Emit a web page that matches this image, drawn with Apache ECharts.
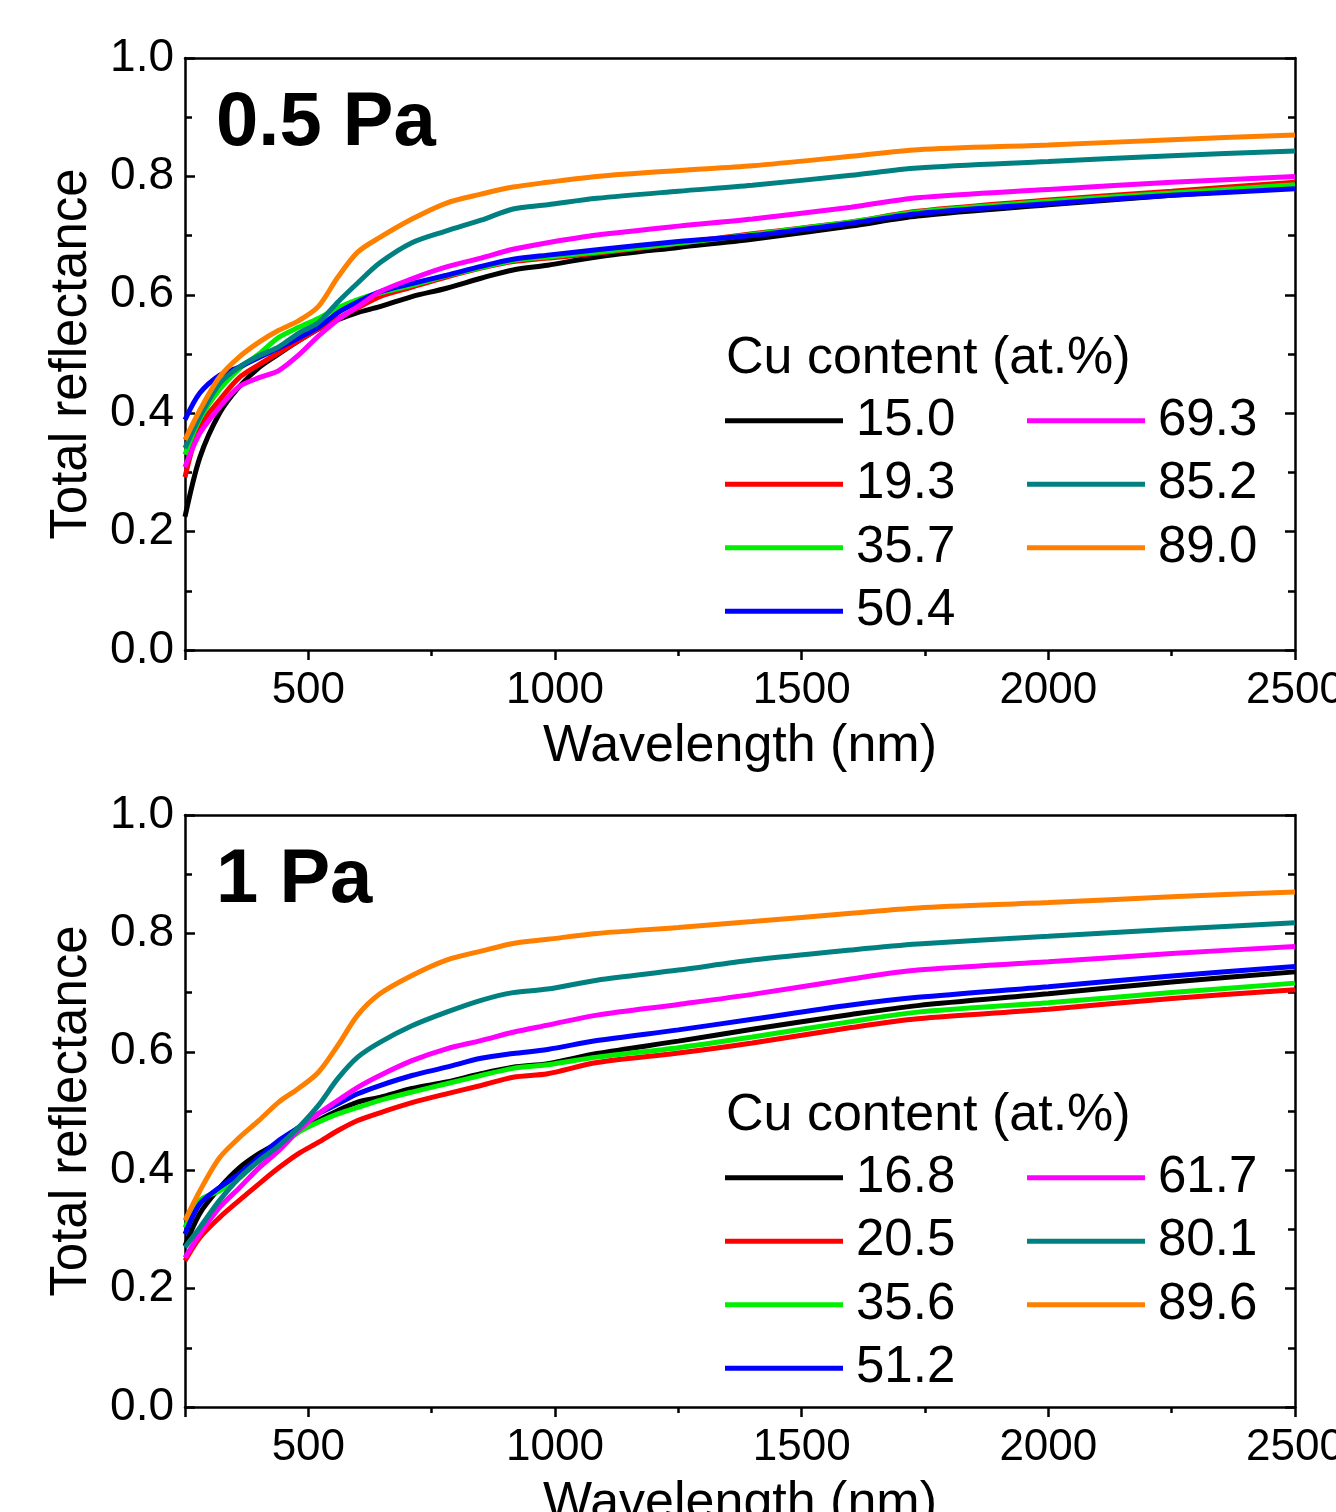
<!DOCTYPE html>
<html>
<head>
<meta charset="utf-8">
<script src="https://cdn.jsdelivr.net/npm/echarts@6/dist/echarts.min.js"></script>
<style>
  html, body { margin: 0; padding: 0; background: #fff; }
  #chart { width: 1336px; height: 1512px; }
</style>
</head>
<body>
<div id="chart"></div>
<script>
const FONT = "'Liberation Sans', Arial, sans-serif";

// wavelength samples (nm), shared by both panels
const wavelength = [250, 280, 320, 360, 400, 440, 480, 520, 560, 600, 645, 710, 780, 850, 915, 985, 1085, 1250, 1400, 1600, 1735, 2000, 2250, 2500];

// 0.5 Pa panel
const pa05Names = ["15.0", "19.3", "35.7", "50.4", "69.3", "85.2", "89.0"];
const pa05Cu15_0 = [0.225, 0.325, 0.40, 0.445, 0.477, 0.50, 0.522, 0.542, 0.558, 0.57, 0.58, 0.597, 0.611, 0.628, 0.642, 0.65, 0.664, 0.68, 0.694, 0.716, 0.733, 0.752, 0.768, 0.782];
const pa05Cu19_3 = [0.292, 0.377, 0.422, 0.46, 0.482, 0.502, 0.522, 0.542, 0.56, 0.578, 0.597, 0.613, 0.63, 0.645, 0.656, 0.662, 0.67, 0.687, 0.703, 0.723, 0.741, 0.76, 0.775, 0.79];
const pa05Cu35_7 = [0.33, 0.39, 0.44, 0.475, 0.50, 0.528, 0.545, 0.56, 0.578, 0.592, 0.603, 0.616, 0.632, 0.646, 0.658, 0.664, 0.672, 0.687, 0.702, 0.723, 0.74, 0.758, 0.772, 0.786];
const pa05Cu50_4 = [0.389, 0.434, 0.464, 0.478, 0.494, 0.51, 0.527, 0.545, 0.57, 0.588, 0.605, 0.619, 0.633, 0.648, 0.66, 0.667, 0.676, 0.69, 0.70, 0.721, 0.737, 0.754, 0.768, 0.779];
const pa05Cu69_3 = [0.309, 0.366, 0.41, 0.445, 0.46, 0.472, 0.498, 0.53, 0.558, 0.58, 0.605, 0.627, 0.647, 0.662, 0.677, 0.688, 0.701, 0.716, 0.728, 0.748, 0.764, 0.778, 0.79, 0.80];
const pa05Cu85_2 = [0.341, 0.394, 0.45, 0.478, 0.497, 0.512, 0.535, 0.553, 0.588, 0.62, 0.654, 0.688, 0.708, 0.726, 0.745, 0.752, 0.763, 0.775, 0.785, 0.802, 0.814, 0.825, 0.835, 0.843];
const pa05Cu89_0 = [0.355, 0.405, 0.461, 0.495, 0.52, 0.54, 0.556, 0.58, 0.63, 0.672, 0.697, 0.728, 0.755, 0.77, 0.782, 0.79, 0.80, 0.81, 0.818, 0.834, 0.845, 0.853, 0.862, 0.87];

// 1 Pa panel
const pa1Names = ["16.8", "20.5", "35.6", "51.2", "61.7", "80.1", "89.6"];
const pa1Cu16_8 = [0.272, 0.327, 0.37, 0.404, 0.428, 0.447, 0.467, 0.484, 0.501, 0.515, 0.523, 0.538, 0.549, 0.563, 0.574, 0.58, 0.597, 0.618, 0.638, 0.663, 0.678, 0.698, 0.718, 0.735];
const pa1Cu20_5 = [0.247, 0.286, 0.32, 0.349, 0.377, 0.404, 0.428, 0.447, 0.467, 0.484, 0.497, 0.514, 0.529, 0.543, 0.557, 0.563, 0.582, 0.598, 0.615, 0.641, 0.656, 0.672, 0.69, 0.705];
const pa1Cu35_6 = [0.303, 0.349, 0.365, 0.387, 0.416, 0.439, 0.464, 0.481, 0.495, 0.506, 0.518, 0.532, 0.546, 0.56, 0.572, 0.578, 0.591, 0.607, 0.625, 0.651, 0.667, 0.683, 0.70, 0.716];
const pa1Cu51_2 = [0.292, 0.343, 0.371, 0.394, 0.422, 0.45, 0.472, 0.495, 0.512, 0.529, 0.543, 0.56, 0.574, 0.589, 0.597, 0.604, 0.619, 0.637, 0.655, 0.679, 0.692, 0.71, 0.728, 0.744];
const pa1Cu61_7 = [0.252, 0.292, 0.337, 0.37, 0.404, 0.433, 0.467, 0.495, 0.518, 0.54, 0.56, 0.585, 0.605, 0.619, 0.633, 0.645, 0.662, 0.68, 0.697, 0.723, 0.738, 0.752, 0.766, 0.778];
const pa1Cu80_1 = [0.27, 0.303, 0.349, 0.387, 0.416, 0.441, 0.472, 0.509, 0.555, 0.591, 0.616, 0.644, 0.667, 0.687, 0.70, 0.706, 0.721, 0.738, 0.755, 0.772, 0.782, 0.795, 0.807, 0.818];
const pa1Cu89_6 = [0.315, 0.365, 0.421, 0.455, 0.484, 0.515, 0.538, 0.565, 0.611, 0.662, 0.698, 0.729, 0.755, 0.77, 0.783, 0.79, 0.80, 0.81, 0.82, 0.834, 0.843, 0.852, 0.862, 0.87];

const majorTicks = [250, 500, 1000, 1500, 2000, 2500];
const minorTicks = [750, 1250, 1750, 2250];
const xLabels = [500, 1000, 1500, 2000, 2500];
const colors = ["#000000", "#ff0000", "#00ee00", "#0000ff", "#ff00ff", "#008080", "#ff8000"];

const panels = [
  { title: "0.5 Pa", names: pa05Names, values: [pa05Cu15_0, pa05Cu19_3, pa05Cu35_7, pa05Cu50_4, pa05Cu69_3, pa05Cu85_2, pa05Cu89_0], top: 58 },
  { title: "1 Pa", names: pa1Names, values: [pa1Cu16_8, pa1Cu20_5, pa1Cu35_6, pa1Cu51_2, pa1Cu61_7, pa1Cu80_1, pa1Cu89_6], top: 815 }
];

const chart = echarts.init(document.getElementById("chart"));

const axisLine = { show: true, onZero: false, lineStyle: { color: "#000", width: 2.5 } };
const grid = [], xAxis = [], yAxis = [], series = [], legend = [], graphic = [];

panels.forEach((p, i) => {
  grid.push({ left: 185, top: p.top, width: 1110, height: 592, containLabel: false, outerBoundsMode: "none" });

  // bottom axis with major ticks and labels
  xAxis.push({
    gridIndex: i, type: "value", min: 250, max: 2500, interval: 250, position: "bottom",
    axisLine,
    axisTick: { show: true, inside: false, length: 10, customValues: majorTicks, lineStyle: { color: "#000", width: 2.5 } },
    axisLabel: { customValues: xLabels, fontSize: 44, color: "#000", fontFamily: FONT, margin: 19, formatter: v => String(v), hideOverlap: false },
    splitLine: { show: false },
    name: "Wavelength (nm)", nameLocation: "middle", nameGap: 71,
    nameTextStyle: { fontSize: 52, color: "#000", fontFamily: FONT }
  });
  // minor ticks on bottom
  xAxis.push({
    gridIndex: i, type: "value", min: 250, max: 2500, interval: 250, position: "bottom",
    axisLine: { show: false },
    axisTick: { show: true, inside: false, length: 6, customValues: minorTicks, lineStyle: { color: "#000", width: 2.5 } },
    axisLabel: { show: false }, splitLine: { show: false }
  });
  // top frame
  xAxis.push({
    gridIndex: i, type: "value", min: 250, max: 2500, position: "top",
    axisLine, axisTick: { show: false }, axisLabel: { show: false }, splitLine: { show: false }
  });

  yAxis.push({
    gridIndex: i, type: "value", min: 0, max: 1, interval: 0.2, position: "left",
    axisLine,
    axisTick: { show: true, inside: true, length: 10, lineStyle: { color: "#000", width: 2.5 } },
    minorTick: { show: true, splitNumber: 2, length: 7, lineStyle: { color: "#000", width: 2.5 } },
    axisLabel: { fontSize: 46, color: "#000", fontFamily: FONT, margin: 11, showMinLabel: true, showMaxLabel: true, formatter: v => v.toFixed(1) },
    splitLine: { show: false },
    name: "Total reflectance", nameLocation: "middle", nameGap: 88,
    nameTextStyle: { fontSize: 51, color: "#000", fontFamily: FONT }
  });
  yAxis.push({
    gridIndex: i, type: "value", min: 0, max: 1, interval: 0.2, position: "right",
    axisLine,
    axisTick: { show: true, inside: true, length: 10, lineStyle: { color: "#000", width: 2.5 } },
    minorTick: { show: true, splitNumber: 2, length: 7, lineStyle: { color: "#000", width: 2.5 } },
    axisLabel: { show: false }, splitLine: { show: false }
  });

  p.values.forEach((vals, k) => {
    series.push({
      name: p.names[k], type: "line",
      xAxisIndex: i * 3, yAxisIndex: i * 2,
      data: wavelength.map((w, j) => [w, vals[j]]),
      showSymbol: false, smooth: 0.3,
      color: colors[k],
      lineStyle: { width: 5, color: colors[k] },
      z: 2 + k
    });
  });

  const off = p.top - 58;
  const legendBase = {
    orient: "vertical", itemGap: 0, itemWidth: 118, itemHeight: 5, icon: "rect",
    selectedMode: false,
    textStyle: { fontSize: 51, color: "#000", fontFamily: FONT, lineHeight: 63.5, padding: [0, 0, 0, 8] },
    padding: 0
  };
  legend.push(Object.assign({}, legendBase, { left: 725, top: 389 + off, data: p.names.slice(0, 4) }));
  legend.push(Object.assign({}, legendBase, { left: 1027, top: 389 + off, data: p.names.slice(4) }));

  graphic.push({
    type: "text", left: 216, top: 86 + off,
    style: { text: p.title, font: "bold 76px " + FONT, fill: "#000" }
  });
  graphic.push({
    type: "text", left: 726, top: 333 + off,
    style: { text: "Cu content (at.%)", font: "52px " + FONT, fill: "#000" }
  });
});

chart.setOption({
  animation: false,
  backgroundColor: "#fff",
  grid, xAxis, yAxis, series, legend, graphic
});
</script>
</body>
</html>
